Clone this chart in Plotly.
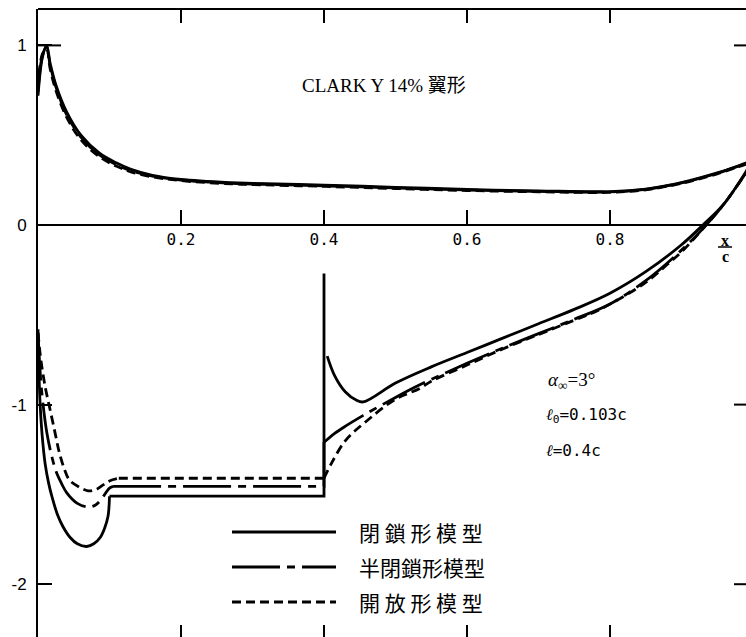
import plotly.graph_objects as go

# ---- pressure distribution data (x/c, Cp) ----
# pressure side (upper branch in the plot), shared chordwise stations
x_upper = [0, 0.006, 0.012, 0.017, 0.025, 0.04, 0.06, 0.086, 0.11, 0.13, 0.16, 0.2,
           0.27, 0.3, 0.4, 0.5, 0.6, 0.7, 0.8, 0.85, 0.9, 0.95, 0.98, 1.0]
cp_upper_closed = [0.72, 0.93, 1.0, 0.9, 0.78, 0.63, 0.50, 0.40, 0.345, 0.31, 0.277, 0.254,
                   0.236, 0.232, 0.222, 0.21, 0.198, 0.19, 0.186, 0.2, 0.236, 0.29, 0.33, 0.36]
cp_upper_semi = [0.74, 0.94, 0.99, 0.89, 0.77, 0.615, 0.49, 0.39, 0.335, 0.302, 0.272, 0.25,
                 0.232, 0.228, 0.218, 0.206, 0.195, 0.187, 0.184, 0.198, 0.234, 0.288, 0.328, 0.355]
cp_upper_open = [0.76, 0.95, 0.98, 0.87, 0.75, 0.60, 0.475, 0.38, 0.327, 0.296, 0.268, 0.247,
                 0.229, 0.225, 0.215, 0.203, 0.192, 0.185, 0.182, 0.196, 0.232, 0.285, 0.325, 0.35]

# suction side: leading-edge dip up to the start of the cavity
x_le_closed = [0, 0.001, 0.003, 0.006, 0.01, 0.015, 0.02, 0.027, 0.035, 0.045, 0.055, 0.068,
               0.078, 0.087, 0.093, 0.098, 0.1]
cp_le_closed = [-0.58, -0.78, -1.0, -1.18, -1.33, -1.44, -1.52, -1.61, -1.68, -1.74, -1.775, -1.79,
                -1.775, -1.74, -1.69, -1.62, -1.51]
x_le_semi = [0, 0.002, 0.005, 0.0125, 0.02, 0.026, 0.033, 0.04, 0.055, 0.07, 0.08, 0.088,
             0.095, 0.1, 0.105]
cp_le_semi = [-0.6, -0.75, -0.92, -1.16, -1.3, -1.38, -1.44, -1.49, -1.55, -1.57, -1.56, -1.53,
              -1.49, -1.465, -1.455]
x_le_open = [0, 0.004, 0.01, 0.017, 0.024, 0.03, 0.037, 0.044, 0.058, 0.07, 0.08, 0.09,
             0.1, 0.113]
cp_le_open = [-0.6, -0.75, -0.9, -1.03, -1.16, -1.27, -1.36, -1.42, -1.46, -1.48, -1.475, -1.45,
              -1.425, -1.41]

# cavity closes at x/c = 0.4; Cp reached at the top of the jump there
x_cavity_end = 0.4
cp_jump_closed = -0.27
cp_jump_semi = -1.21
cp_jump_open = -1.41

# suction side: recovery behind the cavity
x_rec_closed = [0.4045, 0.415, 0.43, 0.445, 0.455, 0.5, 0.55, 0.6, 0.65, 0.7, 0.75, 0.8,
                0.85, 0.9, 0.93, 0.96, 1.0]
cp_rec_closed = [-0.73, -0.84, -0.93, -0.975, -0.985, -0.88, -0.79, -0.71, -0.63, -0.55, -0.47, -0.38,
                 -0.26, -0.11, 0.0, 0.12, 0.36]
x_rec_semi = [0.4, 0.415, 0.43, 0.455, 0.5, 0.534, 0.6, 0.65, 0.7, 0.75, 0.8, 0.85, 0.9,
              0.93, 0.96, 1.0]
cp_rec_semi = [-1.21, -1.16, -1.12, -1.06, -0.96, -0.89, -0.77, -0.685, -0.605, -0.525, -0.44,
               -0.31, -0.14, -0.02, 0.12, 0.35]
x_rec_open = [0.4, 0.41, 0.43, 0.457, 0.5, 0.534, 0.55, 0.6, 0.65, 0.7, 0.75, 0.786, 0.85,
              0.88, 0.9, 0.93, 0.96, 1.0]
cp_rec_open = [-1.41, -1.33, -1.2, -1.1, -0.97, -0.91, -0.87, -0.78, -0.69, -0.61, -0.53, -0.47,
               -0.32, -0.22, -0.15, -0.02, 0.12, 0.35]

x_tick_vals = [0.2, 0.4, 0.6, 0.8]
x_tick_text = ["0.2", "0.4", "0.6", "0.8"]
y_tick_vals = [1, 0, -1, -2]
y_tick_text = ["1", "0", "-1", "-2"]

model_names = ["閉 鎖 形 模 型", "半閉鎖形模型", "開 放 形 模 型"]
model_dash = ["solid", "48px,7px,8px,7px", "9px,5px"]

# ---- layout geometry ----
W, H = 746, 637
M_L, M_T = 38, 9
PX_PER_X = 715.0
PX_PER_Y = 179.6
Y0_PX = 225.0


def dx(px):
    return (px - M_L) / PX_PER_X


def dy(py):
    return (Y0_PX - py) / PX_PER_Y


x_range = [0, dx(W)]
y_range = [dy(H), dy(M_T)]
zero_pos = (0 - y_range[0]) / (y_range[1] - y_range[0])

LW = 2.8
fig = go.Figure()


def add_line(x, y, dash, shape):
    fig.add_trace(go.Scatter(x=x, y=y, mode="lines", showlegend=False, line_shape=shape,
                             line=dict(color="black", width=LW, dash=dash)))


models = [
    (cp_upper_closed, x_le_closed, cp_le_closed, cp_jump_closed, x_rec_closed, cp_rec_closed),
    (cp_upper_semi, x_le_semi, cp_le_semi, cp_jump_semi, x_rec_semi, cp_rec_semi),
    (cp_upper_open, x_le_open, cp_le_open, cp_jump_open, x_rec_open, cp_rec_open),
]
for i, (cp_up, x_le, cp_le, cp_jump, x_rec, cp_rec) in enumerate(models):
    dash = model_dash[i]
    add_line(x_upper, cp_up, dash, "spline")
    add_line(x_le, cp_le, dash, "spline")
    # constant-pressure cavity and the jump at its end
    add_line([x_le[-1], x_cavity_end, x_cavity_end], [cp_le[-1], cp_le[-1], cp_jump], dash, "linear")
    add_line(x_rec, cp_rec, dash, "spline")

shapes = []
# top frame line
shapes.append(dict(type="line", xref="paper", yref="paper", x0=0, x1=1, y0=1, y1=1,
                   line=dict(color="black", width=2)))
for tv in x_tick_vals:
    # ticks hanging from the top frame
    shapes.append(dict(type="line", xref="x", yref="paper", ysizemode="pixel", yanchor=1,
                       x0=tv, x1=tv, y0=0, y1=-14, line=dict(color="black", width=2)))
    # ticks rising from the bottom edge
    shapes.append(dict(type="line", xref="x", yref="paper", ysizemode="pixel", yanchor=0,
                       x0=tv, x1=tv, y0=0, y1=12, line=dict(color="black", width=2)))
for tv in [1, -1, -2]:
    # ticks on the right-hand frame
    shapes.append(dict(type="line", xref="paper", yref="y", xsizemode="pixel", xanchor=1,
                       x0=-12, x1=0, y0=tv, y1=tv, line=dict(color="black", width=2)))
# longer tick at Cp = 1
shapes.append(dict(type="line", xref="x", yref="y", x0=0, x1=dx(61), y0=1, y1=1,
                   line=dict(color="black", width=2)))

annotations = []
# x/c axis label as a fraction
shapes.append(dict(type="line", xref="x", yref="y", x0=dx(718), x1=dx(732),
                   y0=dy(247), y1=dy(247), line=dict(color="black", width=1.5)))
annotations.append(dict(x=dx(725), y=dy(240), text="<b>x</b>", showarrow=False,
                        font=dict(family="Liberation Serif", size=16, color="black")))
annotations.append(dict(x=dx(725), y=dy(256), text="<b>c</b>", showarrow=False,
                        font=dict(family="Liberation Serif", size=16, color="black")))
# Cp label
annotations.append(dict(x=dx(9), y=dy(103), xanchor="left", text="C<sub>P</sub>", showarrow=False,
                        font=dict(family="Liberation Serif", size=20, color="black")))
# title
annotations.append(dict(x=dx(300), y=dy(85), xanchor="left", text="CLARK Y 14% 翼形",
                        showarrow=False,
                        font=dict(family="Liberation Serif, Noto Sans CJK JP", size=19, color="black")))
# flow parameters
annotations.append(dict(x=dx(546), y=dy(381), xanchor="left",
                        text="<i>α</i><sub>∞</sub>=3°", showarrow=False,
                        font=dict(family="Liberation Serif", size=19, color="black")))
annotations.append(dict(x=dx(544), y=dy(415), xanchor="left",
                        text="<i>ℓ</i><sub>0</sub>=0.103c", showarrow=False,
                        font=dict(family="DejaVu Sans Mono", size=16, color="black")))
annotations.append(dict(x=dx(544), y=dy(450), xanchor="left",
                        text="<i>ℓ</i>=0.4c", showarrow=False,
                        font=dict(family="DejaVu Sans Mono", size=16, color="black")))

# key
key_y = [532, 567, 602]
for i in range(3):
    shapes.append(dict(type="line", xref="x", yref="y", x0=dx(232), x1=dx(336),
                       y0=dy(key_y[i]), y1=dy(key_y[i]),
                       line=dict(color="black", width=LW, dash=model_dash[i])))
    annotations.append(dict(x=dx(357), y=dy(key_y[i]), xanchor="left", text=model_names[i],
                            showarrow=False,
                            font=dict(family="Noto Sans CJK JP", size=21, color="black")))

fig.update_layout(
    width=W, height=H,
    margin=dict(l=M_L, r=0, t=M_T, b=0, pad=0),
    paper_bgcolor="white", plot_bgcolor="white",
    showlegend=False,
    shapes=shapes, annotations=annotations,
    xaxis=dict(range=x_range, anchor="free", position=zero_pos,
               showline=True, linecolor="black", linewidth=2,
               ticks="inside", ticklen=14, tickwidth=2, tickcolor="black",
               tickvals=x_tick_vals, ticktext=x_tick_text,
               tickfont=dict(family="DejaVu Sans Mono", size=16, color="black"),
               showgrid=False, zeroline=False),
    yaxis=dict(range=y_range, showline=True, linecolor="black", linewidth=2,
               ticks="inside", ticklen=14, tickwidth=2, tickcolor="black",
               tickvals=y_tick_vals, ticktext=y_tick_text,
               tickfont=dict(family="Liberation Sans", size=17, color="black"),
               ticklabelstandoff=6,
               showgrid=False, zeroline=False),
)

fig.write_html("out.html")
